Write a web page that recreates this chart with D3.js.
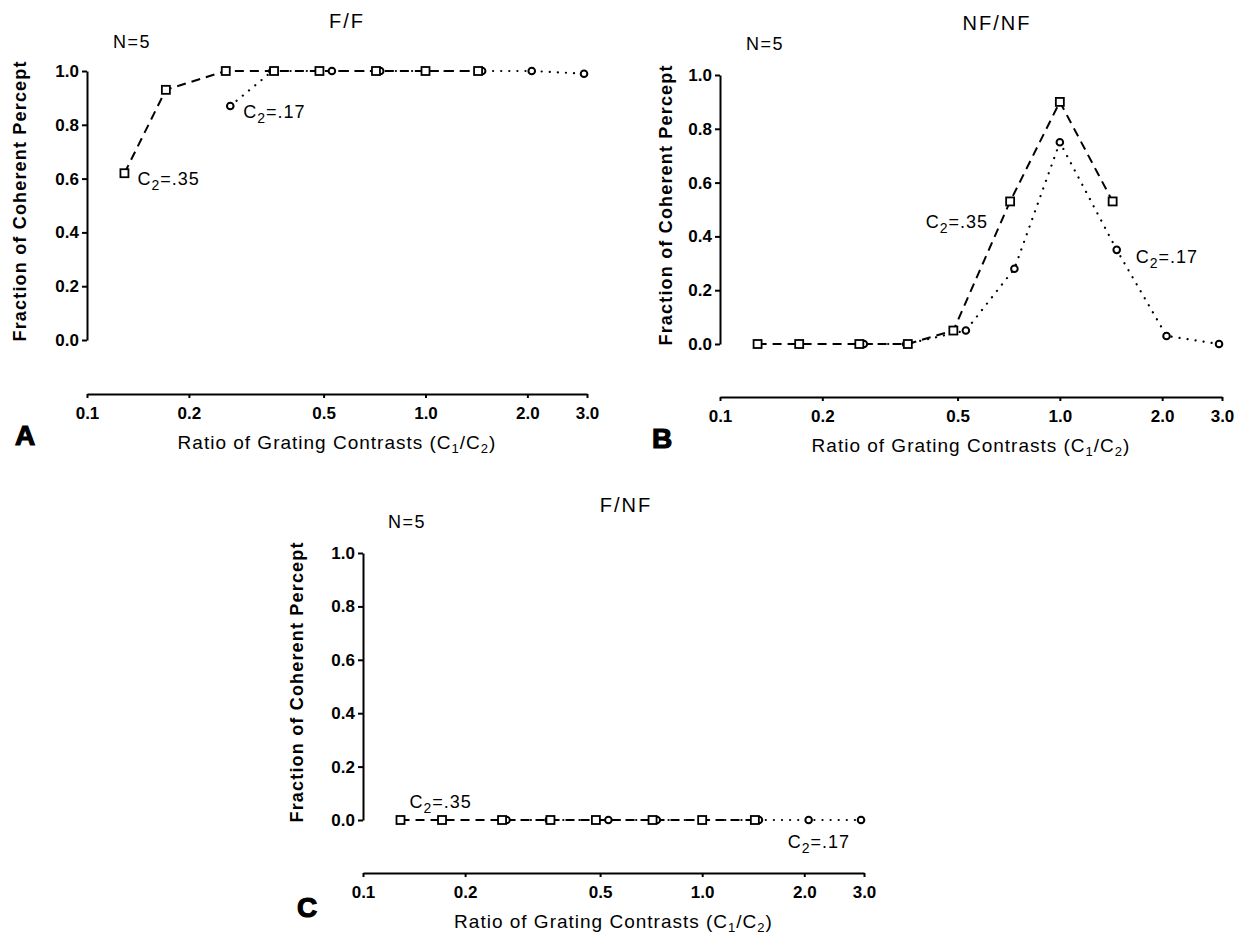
<!DOCTYPE html>
<html>
<head>
<meta charset="utf-8">
<script src="https://cdn.jsdelivr.net/npm/d3@7/dist/d3.min.js"></script>
<style>
  body { margin: 0; background: #fff; }
  svg { display: block; font-family: "Liberation Sans", Arial, sans-serif; }
</style>
</head>
<body>
<script>
// Contrast ratios C1/C2 for both reference contrasts
var ratio35 = [0.129, 0.171, 0.257, 0.357, 0.486, 0.714, 1.0, 1.43];   // C2 = .35 (squares)
var ratio17 = [0.265, 0.353, 0.529, 0.735, 1.0, 1.47, 2.06, 2.94];     // C2 = .17 (circles)

// Fraction of coherent percept, per panel
var ffSquares   = [0.62, 0.93, 1.0, 1.0, 1.0, 1.0, 1.0, 1.0];
var ffCircles   = [0.87, 1.0, 1.0, 1.0, 1.0, 1.0, 1.0, 0.99];
var nfnfSquares = [0, 0, 0, 0, 0.05, 0.53, 0.90, 0.53];
var nfnfCircles = [0, 0, 0.05, 0.28, 0.75, 0.35, 0.03, 0];
var fnfSquares  = [0, 0, 0, 0, 0, 0, 0, 0];
var fnfCircles  = [0, 0, 0, 0, 0, 0, 0, 0];

var xTicks = [0.1, 0.2, 0.5, 1.0, 2.0, 3.0];
var yTicks = [0, 0.2, 0.4, 0.6, 0.8, 1.0];

// layout of the three panels (pixels)
var panels = [
  {title: "F/F", letter: "A", sq: ffSquares, ci: ffCircles,
   left: 87, right: 587, top: 71, bottom: 340, axisY: 394,
   titleX: 347, titleY: 28, nX: 132, nY: 48, ylabX: 26,
   letterX: 15, letterY: 445,
   ann35: {i: 0, dx: 13, dy: 12, anchor: "start"},
   ann17: {i: 0, dx: 13, dy: 12, anchor: "start"}},
  {title: "NF/NF", letter: "B", sq: nfnfSquares, ci: nfnfCircles,
   left: 720, right: 1222, top: 75, bottom: 344, axisY: 397,
   titleX: 997, titleY: 30, nX: 765, nY: 50, ylabX: 672,
   letterX: 652, letterY: 448,
   ann35: {i: 5, dx: -22, dy: 27, anchor: "end"},
   ann17: {i: 5, dx: 19, dy: 13, anchor: "start"}},
  {title: "F/NF", letter: "C", sq: fnfSquares, ci: fnfCircles,
   left: 363, right: 864, top: 553, bottom: 820, axisY: 873,
   titleX: 626, titleY: 512, nX: 407, nY: 528, ylabX: 303,
   letterX: 297, letterY: 917,
   ann35: {i: 0, dx: 9, dy: -12, anchor: "start"},
   ann17: {i: 6, dx: -21, dy: 28, anchor: "start"}}
];

var svg = d3.select("body").append("svg")
    .attr("width", 1248)
    .attr("height", 938);

// C2 label with subscript
function c2Label(g, x, y, anchor, value) {
  var t = g.append("text")
      .attr("x", x).attr("y", y)
      .attr("text-anchor", anchor)
      .style("font-size", "18px")
      .style("letter-spacing", "1px");
  t.append("tspan").text("C");
  t.append("tspan").attr("dy", 5).style("font-size", "14px").text("2");
  t.append("tspan").attr("dy", -5).text("=" + value);
}

panels.forEach(function(p) {
  var g = svg.append("g");

  var x = d3.scaleLog().domain([0.1, 3.0]).range([p.left, p.right]);
  var y = d3.scaleLinear().domain([0, 1]).range([p.bottom, p.top]);

  // y axis
  var ya = g.append("g")
      .attr("transform", "translate(" + p.left + ",0)")
      .call(d3.axisLeft(y)
        .tickValues(yTicks)
        .tickFormat(d3.format(".1f"))
        .tickSize(5)
        .tickSizeOuter(0)
        .tickPadding(3));

  // x axis
  var xa = g.append("g")
      .attr("transform", "translate(0," + p.axisY + ")")
      .call(d3.axisBottom(x)
        .tickValues(xTicks)
        .tickFormat(d3.format(".1f"))
        .tickSize(4)
        .tickSizeOuter(0)
        .tickPadding(9));

  [ya, xa].forEach(function(a) {
    a.attr("font-family", null).attr("font-size", null);
    a.select(".domain").attr("stroke-width", 2);
    a.selectAll(".tick line").attr("stroke-width", 2);
    a.selectAll(".tick text")
      .style("font-size", "17px")
      .style("font-weight", "bold");
  });

  // lines
  var line = d3.line()
      .x(function(d) { return x(d[0]); })
      .y(function(d) { return y(d[1]); });

  var pts35 = ratio35.map(function(r, i) { return [r, p.sq[i]]; });
  var pts17 = ratio17.map(function(r, i) { return [r, p.ci[i]]; });

  g.append("path")
      .attr("d", line(pts17))
      .attr("fill", "none")
      .attr("stroke", "#000")
      .attr("stroke-width", 2.2)
      .attr("stroke-linecap", "round")
      .attr("stroke-dasharray", "0.1,8");

  g.append("path")
      .attr("d", line(pts35))
      .attr("fill", "none")
      .attr("stroke", "#000")
      .attr("stroke-width", 2)
      .attr("stroke-dasharray", "9,6");

  // markers
  g.selectAll(".ci").data(pts17).enter().append("circle")
      .attr("class", "ci")
      .attr("cx", function(d) { return x(d[0]); })
      .attr("cy", function(d) { return y(d[1]); })
      .attr("r", 3.3)
      .attr("fill", "#fff")
      .attr("stroke", "#000")
      .attr("stroke-width", 2);

  g.selectAll(".sq").data(pts35).enter().append("rect")
      .attr("class", "sq")
      .attr("x", function(d) { return x(d[0]) - 4; })
      .attr("y", function(d) { return y(d[1]) - 4; })
      .attr("width", 8)
      .attr("height", 8)
      .attr("fill", "#fff")
      .attr("stroke", "#000")
      .attr("stroke-width", 1.8);

  // C2 annotations, placed next to a data point
  var a = p.ann35;
  c2Label(g, x(pts35[a.i][0]) + a.dx, y(pts35[a.i][1]) + a.dy, a.anchor, ".35");
  a = p.ann17;
  c2Label(g, x(pts17[a.i][0]) + a.dx, y(pts17[a.i][1]) + a.dy, a.anchor, ".17");

  // titles
  g.append("text")
      .attr("x", p.titleX).attr("y", p.titleY)
      .attr("text-anchor", "middle")
      .style("font-size", "20px")
      .style("letter-spacing", "2px")
      .text(p.title);

  g.append("text")
      .attr("x", p.nX).attr("y", p.nY)
      .attr("text-anchor", "middle")
      .style("font-size", "18px")
      .style("letter-spacing", "1.5px")
      .text("N=5");

  // y label
  g.append("text")
      .attr("transform", "translate(" + p.ylabX + "," + ((p.top + p.bottom) / 2 - 4) + ") rotate(-90)")
      .attr("text-anchor", "middle")
      .attr("textLength", 280)
      .attr("lengthAdjust", "spacing")
      .style("font-size", "18px")
      .style("font-weight", "bold")
      .text("Fraction of Coherent Percept");

  // x label
  var xl = g.append("text")
      .attr("x", (p.left + p.right) / 2)
      .attr("y", p.axisY + 55)
      .attr("text-anchor", "middle")
      .style("font-size", "19px")
      .style("letter-spacing", "1px");
  xl.append("tspan").text("Ratio of Grating Contrasts (C");
  xl.append("tspan").attr("dy", 4).style("font-size", "13px").text("1");
  xl.append("tspan").attr("dy", -4).text("/C");
  xl.append("tspan").attr("dy", 4).style("font-size", "13px").text("2");
  xl.append("tspan").attr("dy", -4).text(")");

  // panel letter
  g.append("text")
      .attr("x", p.letterX).attr("y", p.letterY)
      .style("font-size", "28px")
      .style("font-weight", "bold")
      .attr("stroke", "#000")
      .attr("stroke-width", 1.2)
      .text(p.letter);
});
</script>
</body>
</html>
